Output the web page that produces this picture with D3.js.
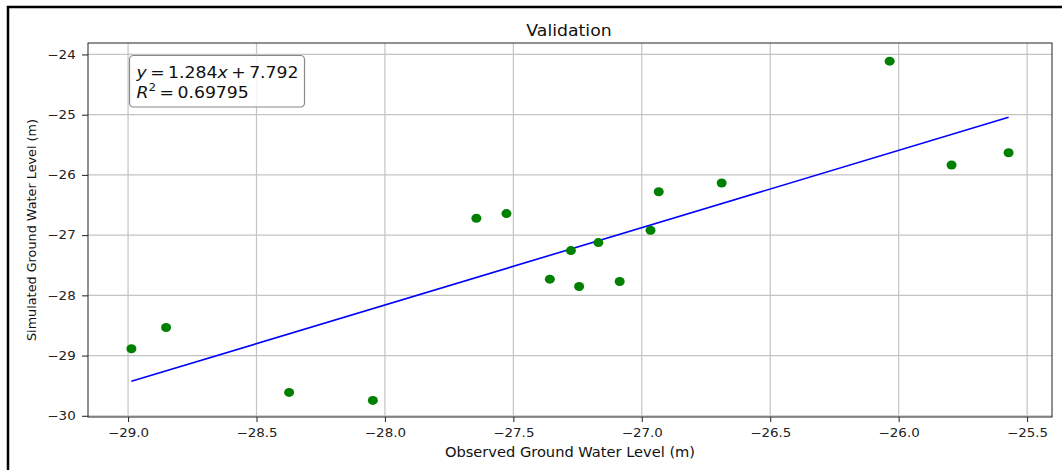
<!DOCTYPE html>
<html>
<head>
<meta charset="utf-8">
<script src="https://cdn.jsdelivr.net/npm/d3@7"></script>
<style>
  html, body { margin: 0; padding: 0; background: #fff; }
  svg { display: block; font-family: "DejaVu Sans", sans-serif; }
</style>
</head>
<body>
<svg id="chart" width="1062" height="470"></svg>
<script>
// Valores
const observed = [-28.987, -28.852, -28.373, -28.047, -27.644, -27.527, -27.358, -27.276,
                  -27.244, -27.169, -27.086, -26.966, -26.934, -26.689, -26.035, -25.794, -25.572];
const simulated = [-28.887, -28.534, -29.612, -29.745, -26.720, -26.643, -27.731, -27.257,
                   -27.854, -27.124, -27.771, -26.919, -26.279, -26.134, -24.111, -25.836, -25.632];
const xTicks = [-29.0, -28.5, -28.0, -27.5, -27.0, -26.5, -26.0, -25.5];
const yTicks = [-24, -25, -26, -27, -28, -29, -30];
const slope = 1.284;
const intercept = 7.792;
const r2Label = '0.69795';

const svg = d3.select('#chart');
const plot = { left: 88, top: 43, right: 1052, bottom: 417 };
const stretch = 1.1;   // el original esta algo ensanchado

const x = d3.scaleLinear().domain([-29.156, -25.403]).range([plot.left, plot.right]);
const y = d3.scaleLinear().domain([-30.02, -23.81]).range([plot.bottom, plot.top]);

const minus = s => s.replace('-', '\u2212');

// Marco exterior
svg.append('rect')
    .attr('x', 8).attr('y', 7)
    .attr('width', 1100).attr('height', 500)
    .attr('fill', 'none').attr('stroke', '#000').attr('stroke-width', 2.5);

// Rejilla
const grid = svg.append('g').attr('stroke', '#c4c4c4').attr('stroke-width', 1.2);
grid.selectAll('.gx').data(xTicks).enter().append('line')
    .attr('x1', d => x(d)).attr('x2', d => x(d))
    .attr('y1', plot.top).attr('y2', plot.bottom);
grid.selectAll('.gy').data(yTicks).enter().append('line')
    .attr('x1', plot.left).attr('x2', plot.right)
    .attr('y1', d => y(d)).attr('y2', d => y(d));

// Ejes
const xAxis = svg.append('g')
    .attr('transform', `translate(0,${plot.bottom})`)
    .call(d3.axisBottom(x).tickValues(xTicks).tickSize(5).tickPadding(6.5)
        .tickFormat(d => minus(d3.format('.1f')(d))));
const yAxis = svg.append('g')
    .attr('transform', `translate(${plot.left},0)`)
    .call(d3.axisLeft(y).tickValues(yTicks).tickSize(6).tickPadding(5)
        .tickFormat(d => minus(d3.format('d')(d))));

[xAxis, yAxis].forEach(a => {
    a.select('.domain').remove();
    a.selectAll('text').attr('font-size', 12).attr('fill', '#222')
        .attr('font-family', '"DejaVu Sans", sans-serif')
        .attr('transform', `scale(${stretch + 0.02},1)`);
    a.selectAll('line').attr('stroke', '#222');
});

// Linea de regresion
const xMin = d3.min(observed), xMax = d3.max(observed);
svg.append('line')
    .attr('x1', x(xMin)).attr('y1', y(slope * xMin + intercept))
    .attr('x2', x(xMax)).attr('y2', y(slope * xMax + intercept))
    .attr('stroke', '#0000ff').attr('stroke-width', 1.6);

// Puntos
svg.append('g').selectAll('ellipse')
    .data(observed.map((v, i) => [v, simulated[i]]))
    .enter().append('ellipse')
    .attr('cx', d => x(d[0])).attr('cy', d => y(d[1]))
    .attr('rx', 5).attr('ry', 4.5)
    .attr('fill', '#008000');

// Borde del area
svg.append('rect')
    .attr('x', plot.left).attr('y', plot.top)
    .attr('width', plot.right - plot.left).attr('height', plot.bottom - plot.top)
    .attr('fill', 'none').attr('stroke', '#222').attr('stroke-width', 1);

// Cuadro de la ecuacion
svg.append('rect')
    .attr('x', 129.5).attr('y', 55.5).attr('width', 175).attr('height', 51.5)
    .attr('rx', 4).attr('fill', '#fff').attr('fill-opacity', 0.85)
    .attr('stroke', '#888').attr('stroke-width', 1.2);

const thin = '\u2009';
const eq = svg.append('text').attr('transform', `translate(136.5,78) scale(${stretch - 0.02},1)`)
    .attr('font-size', 16).attr('fill', '#111');
eq.append('tspan').attr('font-style', 'italic').text('y');
eq.append('tspan').text(thin + '=' + thin + slope.toFixed(3));
eq.append('tspan').attr('font-style', 'italic').text('x');
eq.append('tspan').text(thin + '+' + thin + intercept.toFixed(3));

const r2 = svg.append('text').attr('transform', `translate(136.5,97.5) scale(${stretch - 0.02},1)`)
    .attr('font-size', 16).attr('fill', '#111');
r2.append('tspan').attr('font-style', 'italic').text('R');
r2.append('tspan').attr('font-size', 11).attr('dy', -7).text('2');
r2.append('tspan').attr('dy', 7).text(thin + '=' + thin + r2Label);

// Titulos
svg.append('text').attr('transform', `translate(569,36) scale(${stretch - 0.02},1)`)
    .attr('text-anchor', 'middle')
    .attr('font-size', 16).attr('fill', '#111').text('Validation');
svg.append('text').attr('transform', `translate(570,457) scale(${stretch},1)`)
    .attr('text-anchor', 'middle')
    .attr('font-size', 13.3).attr('fill', '#111').text('Observed Ground Water Level (m)');
svg.append('text').attr('transform', 'translate(36,230) rotate(-90)').attr('text-anchor', 'middle')
    .attr('font-size', 12.8).attr('fill', '#111').text('Simulated Ground Water Level (m)');
</script>
</body>
</html>
